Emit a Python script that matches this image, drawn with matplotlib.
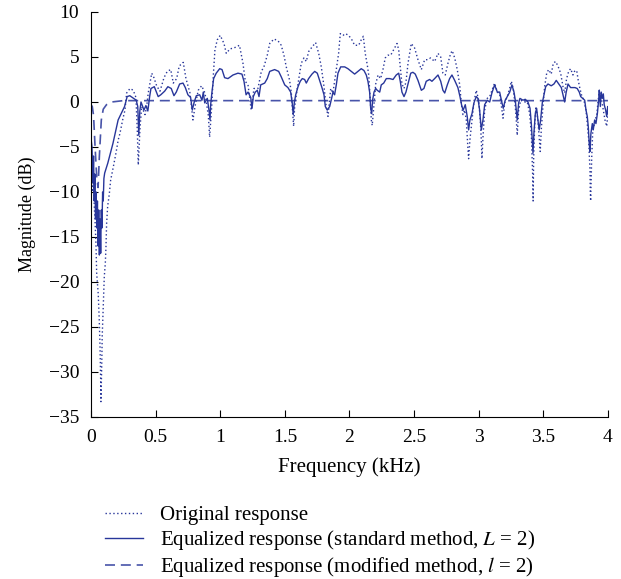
import numpy as np
import matplotlib.pyplot as plt

plt.rcParams['font.family'] = ['Liberation Serif', 'DejaVu Serif']
plt.rcParams['mathtext.fontset'] = 'stix'

# original response (dotted)
freq_orig = [0.004, 0.012, 0.019, 0.027, 0.031, 0.039, 0.044, 0.056, 0.064, 0.070,
             0.075, 0.077, 0.083, 0.087, 0.095, 0.103, 0.111, 0.116, 0.121, 0.129,
             0.142, 0.152, 0.173, 0.193, 0.211, 0.224, 0.245, 0.263, 0.276, 0.302,
             0.327, 0.348, 0.358, 0.366, 0.379, 0.392, 0.418, 0.431, 0.443, 0.470,
             0.487, 0.508, 0.534, 0.565, 0.590, 0.617, 0.637, 0.663, 0.683, 0.714,
             0.735, 0.766, 0.789, 0.805, 0.830, 0.856, 0.882, 0.908, 0.918, 0.934,
             0.946, 0.959, 0.977, 1.000, 1.029, 1.047, 1.075, 1.106, 1.149, 1.176,
             1.194, 1.215, 1.240, 1.261, 1.292, 1.318, 1.338, 1.364, 1.383, 1.416,
             1.447, 1.472, 1.493, 1.511, 1.537, 1.550, 1.563, 1.568, 1.576, 1.596,
             1.615, 1.627, 1.648, 1.666, 1.684, 1.710, 1.738, 1.762, 1.782, 1.803,
             1.820, 1.834, 1.855, 1.872, 1.898, 1.916, 1.929, 1.950, 1.968, 1.994,
             2.019, 2.040, 2.071, 2.091, 2.107, 2.122, 2.138, 2.149, 2.161, 2.169,
             2.176, 2.190, 2.203, 2.221, 2.241, 2.259, 2.277, 2.298, 2.319, 2.342,
             2.368, 2.381, 2.393, 2.406, 2.422, 2.437, 2.453, 2.468, 2.478, 2.504,
             2.530, 2.556, 2.582, 2.607, 2.628, 2.659, 2.685, 2.706, 2.723, 2.741,
             2.762, 2.783, 2.795, 2.814, 2.834, 2.853, 2.865, 2.878, 2.891, 2.904,
             2.911, 2.917, 2.922, 2.932, 2.948, 2.963, 2.981, 3.000, 3.012, 3.020,
             3.025, 3.033, 3.046, 3.066, 3.085, 3.103, 3.123, 3.144, 3.162, 3.180,
             3.188, 3.201, 3.221, 3.239, 3.252, 3.267, 3.283, 3.294, 3.298, 3.309,
             3.325, 3.350, 3.376, 3.394, 3.407, 3.412, 3.417, 3.421, 3.425, 3.433,
             3.443, 3.458, 3.469, 3.476, 3.484, 3.497, 3.510, 3.526, 3.541, 3.561,
             3.577, 3.595, 3.613, 3.634, 3.652, 3.665, 3.680, 3.696, 3.711, 3.729,
             3.741, 3.758, 3.770, 3.783, 3.797, 3.814, 3.830, 3.840, 3.851, 3.855,
             3.861, 3.863, 3.866, 3.874, 3.882, 3.892, 3.902, 3.913, 3.923, 3.933,
             3.940, 3.951, 3.964, 3.977, 3.990, 4.000]
mag_orig = [-8, -10, -9, -12, -13, -16, -19, -21.3, -24.2, -27.2,
            -30.9, -33.3, -29.4, -26, -22.7, -19.4, -17.9, -16.1, -13.5, -11.6,
            -10.2, -8.7, -7.2, -5.7, -4.2, -3.5, -2.0, -0.9, 1.0, 1.5,
            1.3, 0.5, -3, -7.0, -3, -0.5, -1.4, -0.5, 1.0, 3.2,
            2.7, 1.8, 1.2, 2.7, 3.4, 3.6, 2.1, 2.6, 4.0, 4.4,
            2.6, 1.0, -2.0, -0.5, 1.3, 1.8, 1.0, -1.5, -3.9, -0.5,
            2.8, 5.8, 6.9, 7.4, 6.5, 5.4, 5.9, 6.0, 6.3, 4.3,
            2.3, 1.9, -0.9, 1.5, 1.5, 3.4, 3.9, 5.2, 6.5, 7.0,
            6.8, 6.3, 5.2, 3.9, 2.4, 1.0, -1.8, -2.7, -0.5, 1.5,
            3.2, 4.3, 4.9, 4.5, 5.6, 6.1, 6.6, 5.4, 3.9, 1.7,
            -0.5, -1.6, 1.5, 1.0, 3.6, 5.4, 7.6, 7.4, 7.6, 7.4,
            6.9, 6.3, 6.3, 6.9, 7.3, 5.4, 4.1, 3.0, 0.2, -2.0,
            -2.6, -0.2, 2.0, 3.0, 2.6, 3.6, 4.9, 5.2, 5.2, 5.8,
            6.5, 5.8, 3.9, 2.0, 1.5, 2.2, 4.3, 5.6, 6.5, 6.0,
            4.7, 3.6, 4.7, 4.7, 4.9, 4.5, 5.4, 5.0, 3.2, 3.0,
            4.3, 5.4, 5.7, 4.9, 3.6, 1.9, -0.1, -1.4, -0.9, -2.0,
            -3.9, -5.3, -6.3, -4.2, -2.0, 0.0, 1.3, 0.2, -2.0, -4.2,
            -6.3, -3.9, -0.9, 0.4, 0.6, 1.3, 2.1, 1.1, 0.9, -0.9,
            -1.8, -0.1, 0.6, 1.5, 2.3, 1.5, -0.5, -2.7, -3.7, -0.9,
            0.2, 0.0, 0.0, -1.3, -3.5, -5.7, -7.9, -11.0, -6.3, -2.6,
            -0.5, -2.0, -4.2, -5.5, -3.1, -0.5, 1.7, 3.2, 3.6, 3.1,
            4.3, 4.5, 4.0, 3.2, 1.7, 1.0, 2.6, 3.4, 3.7, 3.0,
            3.4, 3.5, 2.4, 1.5, 0.7, 0.2, -0.9, -2.4, -4.2, -5.7,
            -7.6, -9.8, -11.0, -6.3, -3.3, -2.6, -1.9, -1.5, 0.0, 1.3,
            0.8, 0.2, -0.9, -2.0, -2.7, -1.3]

# equalized response, standard method (solid)
freq_std = [0.0, 0.008, 0.015, 0.02, 0.025, 0.03, 0.035, 0.04, 0.045, 0.05,
            0.055, 0.06, 0.065, 0.07, 0.075, 0.08, 0.085, 0.09, 0.095, 0.1,
            0.106, 0.13, 0.17, 0.21, 0.23, 0.26, 0.28, 0.30, 0.325, 0.35,
            0.362, 0.37, 0.378, 0.387, 0.41, 0.425, 0.44, 0.454, 0.464, 0.49,
            0.52, 0.54, 0.57, 0.595, 0.621, 0.642, 0.66, 0.686, 0.712, 0.73,
            0.75, 0.771, 0.784, 0.797, 0.815, 0.841, 0.859, 0.869, 0.88, 0.9,
            0.913, 0.921, 0.926, 0.936, 0.949, 0.969, 0.996, 1.014, 1.034, 1.06,
            1.099, 1.137, 1.168, 1.184, 1.2, 1.215, 1.236, 1.246, 1.256, 1.271,
            1.287, 1.3, 1.313, 1.344, 1.364, 1.383, 1.421, 1.452, 1.472, 1.499,
            1.524, 1.545, 1.557, 1.565, 1.573, 1.584, 1.602, 1.619, 1.635, 1.653,
            1.666, 1.684, 1.71, 1.731, 1.751, 1.769, 1.787, 1.803, 1.813, 1.828,
            1.847, 1.865, 1.872, 1.885, 1.898, 1.911, 1.932, 1.963, 1.988, 2.014,
            2.04, 2.066, 2.091, 2.112, 2.13, 2.143, 2.156, 2.164, 2.172, 2.179,
            2.19, 2.203, 2.215, 2.234, 2.246, 2.265, 2.285, 2.311, 2.337, 2.362,
            2.381, 2.393, 2.406, 2.422, 2.437, 2.453, 2.474, 2.491, 2.509, 2.53,
            2.556, 2.576, 2.594, 2.62, 2.638, 2.659, 2.685, 2.706, 2.723, 2.737,
            2.757, 2.775, 2.793, 2.814, 2.839, 2.855, 2.87, 2.88, 2.896, 2.911,
            2.922, 2.932, 2.948, 2.963, 2.981, 2.994, 3.007, 3.02, 3.033, 3.046,
            3.066, 3.085, 3.102, 3.123, 3.144, 3.162, 3.18, 3.19, 3.205, 3.221,
            3.24, 3.257, 3.273, 3.283, 3.294, 3.298, 3.309, 3.319, 3.342, 3.36,
            3.381, 3.397, 3.407, 3.414, 3.42, 3.427, 3.438, 3.448, 3.458, 3.468,
            3.479, 3.492, 3.505, 3.518, 3.536, 3.561, 3.582, 3.6, 3.619, 3.639,
            3.655, 3.665, 3.677, 3.691, 3.711, 3.729, 3.745, 3.762, 3.778, 3.789,
            3.804, 3.82, 3.83, 3.84, 3.848, 3.855, 3.861, 3.868, 3.879, 3.886,
            3.897, 3.907, 3.918, 3.928, 3.933, 3.941, 3.948, 3.956, 3.964, 3.971,
            3.982, 3.99, 3.998, 4.0]
mag_std = [-4.0, -5.0, -9, -6, -11, -8, -13, -10, -14, -11,
           -16, -12, -17, -13, -16.8, -12, -14, -10, -11, -8.5,
           -7.9, -6.8, -4.6, -2.0, -1.4, -0.5, 0.6, 0.7, 0.45, 0.2,
           -0.5, -3.7, -1.0, 0.0, -0.9, -0.4, -1.0, 0.6, 1.5, 1.7,
           0.6, 0.8, 1.2, 1.7, 1.5, 0.7, 1.1, 2.0, 2.1, 1.6,
           0.8, 0.5, -0.9, -0.1, 0.7, 0.8, 0.2, 1.1, -0.1, 0.4,
           -0.9, -2.0, -0.3, 1.1, 2.6, 3.2, 3.7, 3.6, 2.7, 2.6,
           3.0, 3.2, 3.1, 2.3, 0.8, 1.1, 0.5, -0.7, 0.6, 1.1,
           1.3, 0.6, 1.9, 2.1, 2.6, 3.4, 3.6, 3.4, 2.8, 1.9,
           1.6, 1.1, -0.1, -1.4, -0.1, 0.8, 1.7, 2.3, 2.6, 2.5,
           2.1, 2.6, 3.1, 3.4, 3.2, 2.4, 1.6, 0.8, -0.5, -0.9,
           -0.5, 0.6, 1.1, 0.8, 1.9, 3.2, 3.9, 3.9, 3.7, 3.4,
           3.1, 3.4, 3.7, 3.5, 3.0, 2.3, 1.1, -0.7, -1.3, 0.2,
           1.1, 1.5, 1.3, 1.1, 1.9, 2.1, 2.6, 2.6, 2.5, 3.0,
           3.2, 2.3, 1.1, 0.6, 1.1, 2.0, 3.2, 3.3, 3.1, 2.4,
           1.3, 1.5, 2.3, 2.5, 2.3, 2.6, 3.0, 2.3, 1.3, 1.0,
           1.9, 2.6, 3.0, 2.4, 1.6, 0.6, -0.5, -0.9, -0.3, -1.6,
           -3.1, -2.0, -1.3, -0.1, 0.6, 0.4, -0.9, -3.1, -2.0, -0.3,
           0.2, 0.0, 1.0, 1.9, 1.1, 1.1, -0.1, -0.7, 0.2, 0.6,
           1.1, 1.9, 1.1, 0.2, -1.4, -2.0, -0.1, 0.4, 0.2, 0.3,
           0.0, -0.7, -2.4, -4.2, -5.7, -3.5, -1.3, -0.7, -2.0, -3.1,
           -2.0, -0.1, 0.8, 1.7, 2.0, 1.8, 2.0, 2.4, 2.0, 1.6,
           0.6, 0.0, 1.1, 2.0, 1.6, 1.6, 1.6, 1.5, 1.1, 0.6,
           0.4, 0.2, -0.9, -1.6, -2.8, -4.6, -5.5, -3.5, -2.4, -3.1,
           -2.0, -2.4, -1.3, 0.2, 1.3, -0.5, 1.1, 0.4, 0.9, -0.3,
           -0.9, -1.6, -0.5, -1.3]

# equalized response, modified method (dashed)
freq_mod = [0.0, 0.01, 0.02, 0.03, 0.045, 0.055, 0.065, 0.08, 0.095, 0.12, 0.16, 0.25, 4.0]
mag_mod = [-0.3, -0.5, -1.5, -4.5, -8.5, -9.5, -6, -2, -0.8, -0.3, 0.0, 0.15, 0.15]

color = '#28369a'

fig = plt.figure(figsize=(6.21, 5.79), dpi=100)
ax = fig.add_axes([0.1465, 0.2798, 0.8325, 0.6995])

ax.plot(freq_orig, mag_orig, color=color, lw=1.0, linestyle=(0, (1, 1.8)), label='Original response')
ax.plot(freq_std, mag_std, color=color, lw=1.0, label=r'Equalized response (standard method, $L$ = 2)')
ax.plot(freq_mod, mag_mod, color=color, lw=1.2, linestyle=(0, (6, 3.5)), alpha=0.85,
        label=r'Equalized response (modified method, $l$ = 2)')

ax.set_xlim(0, 4)
ax.set_ylim(-35, 10)
ax.set_xticks([0, 0.5, 1, 1.5, 2, 2.5, 3, 3.5, 4])
ax.set_xticklabels(['0', '0.5', '1', '1.5', '2', '2.5', '3', '3.5', '4'])
ax.set_yticks(np.arange(-35, 11, 5))
ax.tick_params(direction='in', length=5, width=0.8, labelsize=14, pad=8.5)
for s in ['top', 'right']:
    ax.spines[s].set_visible(False)
ax.set_xlabel('Frequency (kHz)', fontsize=15, labelpad=8)
ax.set_ylabel('Magnitude (dB)', fontsize=13, labelpad=9)

ax.legend(loc='upper left', bbox_to_anchor=(0.169, 0.127), bbox_transform=fig.transFigure,
          frameon=False, fontsize=15, handlelength=1.85, handletextpad=0.8,
          labelspacing=0.14, borderpad=0, borderaxespad=0)

fig.savefig('out.png', dpi=100)
